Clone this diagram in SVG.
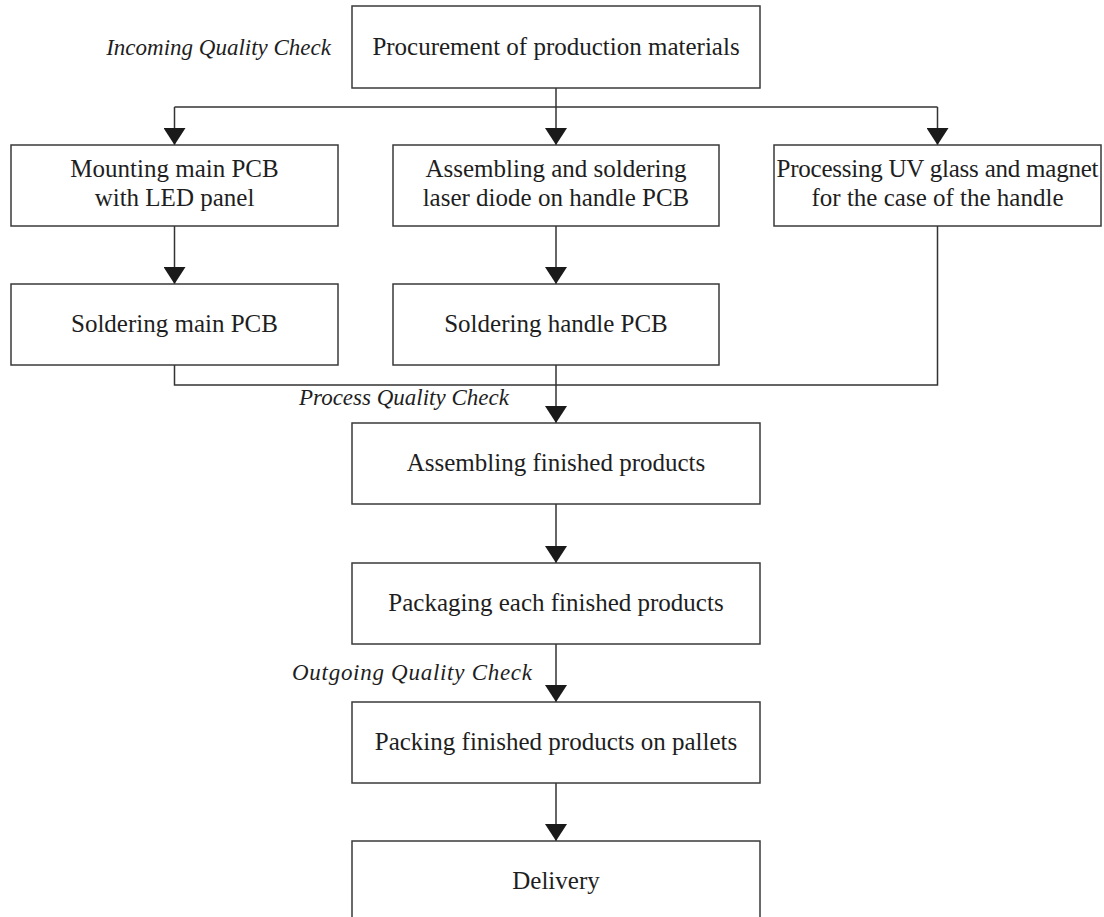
<svg xmlns="http://www.w3.org/2000/svg" width="1104" height="917" viewBox="0 0 1104 917">
<defs>
<style>
.box{fill:#fff;stroke:#3a3a3a;stroke-width:1.5}
.t{font-family:"Liberation Serif","Times New Roman",serif;font-size:25px;fill:#1e1e1e;text-anchor:middle}
.lab{font-family:"Liberation Serif","Times New Roman",serif;font-size:23px;font-style:italic;fill:#1e1e1e}
.ln{fill:none;stroke:#333;stroke-width:1.5}
</style>
<marker id="ah" viewBox="0 0 17 22" refX="17" refY="11" markerWidth="17" markerHeight="22" markerUnits="userSpaceOnUse" orient="auto">
<path d="M0,0 L17,11 L0,22 Z" fill="#1a1a1a"/>
</marker>
</defs>
<rect width="1104" height="917" fill="#fff"/>
<g id="connectors">
<path class="ln" d="M556,88 V107"/>
<path class="ln" d="M174.5,107 H937.5"/>
<path class="ln" d="M174.5,107 V145" marker-end="url(#ah)"/>
<path class="ln" d="M556,107 V145" marker-end="url(#ah)"/>
<path class="ln" d="M937.5,107 V145" marker-end="url(#ah)"/>
<path class="ln" d="M174.5,226 V284" marker-end="url(#ah)"/>
<path class="ln" d="M556,226 V284" marker-end="url(#ah)"/>
<path class="ln" d="M174.5,365 V385 H937.5 V226"/>
<path class="ln" d="M556,365 V423" marker-end="url(#ah)"/>
<path class="ln" d="M556,504 V563" marker-end="url(#ah)"/>
<path class="ln" d="M556,644 V702" marker-end="url(#ah)"/>
<path class="ln" d="M556,783 V841" marker-end="url(#ah)"/>
</g>
<g id="label-incoming"><text class="lab" x="331" y="55" text-anchor="end">Incoming Quality Check</text></g>
<g id="label-process"><text class="lab" x="299" y="405">Process Quality Check</text></g>
<g id="label-outgoing"><text class="lab" x="292" y="680" textLength="240">Outgoing Quality Check</text></g>
<g id="n-procurement"><rect class="box" x="352" y="6" width="408" height="82"/><text class="t" x="556" y="55">Procurement of production materials</text></g>
<g id="n-mounting"><rect class="box" x="11" y="145" width="327" height="81"/><text class="t" x="174.5" y="177">Mounting main PCB</text><text class="t" x="174.5" y="206">with LED panel</text></g>
<g id="n-laser"><rect class="box" x="393" y="145" width="326" height="81"/><text class="t" x="556" y="177">Assembling and soldering</text><text class="t" x="556" y="206">laser diode on handle PCB</text></g>
<g id="n-uv"><rect class="box" x="774" y="145" width="327" height="81"/><text class="t" x="937.5" y="177" textLength="322">Processing UV glass and magnet</text><text class="t" x="937.5" y="206">for the case of the handle</text></g>
<g id="n-solder-main"><rect class="box" x="11" y="284" width="327" height="81"/><text class="t" x="174.5" y="332">Soldering main PCB</text></g>
<g id="n-solder-handle"><rect class="box" x="393" y="284" width="326" height="81"/><text class="t" x="556" y="332">Soldering handle PCB</text></g>
<g id="n-assembling"><rect class="box" x="352" y="423" width="408" height="81"/><text class="t" x="556" y="471">Assembling finished products</text></g>
<g id="n-packaging"><rect class="box" x="352" y="563" width="408" height="81"/><text class="t" x="556" y="611">Packaging each finished products</text></g>
<g id="n-packing"><rect class="box" x="352" y="702" width="408" height="81"/><text class="t" x="556" y="750">Packing finished products on pallets</text></g>
<g id="n-delivery"><rect class="box" x="352" y="841" width="408" height="90"/><text class="t" x="556" y="889">Delivery</text></g>
</svg>
